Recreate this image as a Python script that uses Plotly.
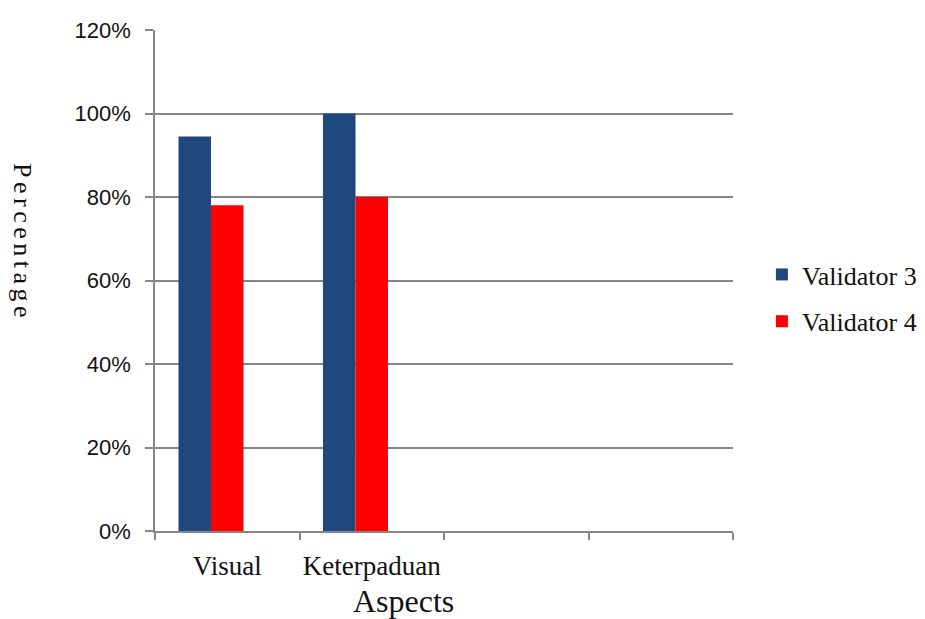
import plotly.graph_objects as go

categories = ["Visual", "Keterpaduan", " ", "  "]
validator3 = [0.945, 1.00, None, None]
validator4 = [0.78, 0.80, None, None]
empty_series = [None, None, None, None]
y_ticks = [0, 0.2, 0.4, 0.6, 0.8, 1.0, 1.2]

serif = "Liberation Serif"
sans = "Liberation Sans"

fig = go.Figure()
fig.add_trace(go.Bar(x=categories, y=validator3, name="Validator 3",
                     marker=dict(color="#1F497D", line=dict(width=0)),
                     legendgroup="a"))
fig.add_trace(go.Bar(x=categories, y=validator4, name="Validator 4",
                     marker=dict(color="#FF0000", line=dict(width=0)),
                     legendgroup="b"))
fig.add_trace(go.Bar(x=categories, y=empty_series, name="", showlegend=False,
                     marker=dict(color="rgba(0,0,0,0)")))

fig.update_layout(
    width=925, height=619,
    margin=dict(l=155, r=192, t=30, b=88, autoexpand=False),
    plot_bgcolor="white", paper_bgcolor="white",
    barmode="group", bargap=0.325, bargroupgap=0,
    showlegend=True,
    legend=dict(x=1.05, y=0.465, xanchor="left", yanchor="middle",
                font=dict(family=serif, size=26, color="#111"),
                traceorder="grouped", tracegroupgap=10,
                itemwidth=30, bgcolor="rgba(0,0,0,0)"),
    xaxis=dict(type="category", categoryorder="array", categoryarray=categories,
               tickson="boundaries", ticks="outside", ticklen=7, tickwidth=1.5,
               tickcolor="#868686", showline=True, linecolor="#868686", linewidth=1.5,
               showgrid=False, range=[-0.5, 3.5], ticklabelstandoff=10,
               tickangle=0, automargin=False,
               tickfont=dict(family=serif, size=27, color="#111")),
    yaxis=dict(range=[0, 1.2], tickvals=y_ticks, tickformat=".0%",
               ticks="outside", ticklen=8, tickwidth=1.5, tickcolor="#868686",
               showline=True, linecolor="#868686", linewidth=1.5,
               showgrid=True, gridcolor="#868686", gridwidth=1.5,
               zeroline=False, ticklabelstandoff=10, automargin=False,
               tickfont=dict(family=sans, size=22, color="#111")),
    annotations=[
        dict(text="Aspects", xref="paper", yref="paper", x=(403 - 155) / 578,
             y=(531 - 601) / 501,
             xanchor="center", yanchor="middle", showarrow=False,
             font=dict(family=serif, size=32, color="#111")),
        dict(text="<span style='letter-spacing:4.5px'>Percentage</span>",
             xref="paper", yref="paper", x=(22 - 155) / 578,
             y=(531 - 242) / 501, xanchor="center", yanchor="middle", showarrow=False,
             textangle=90, font=dict(family=serif, size=26, color="#111")),
    ],
)

fig.write_html("out.html")
